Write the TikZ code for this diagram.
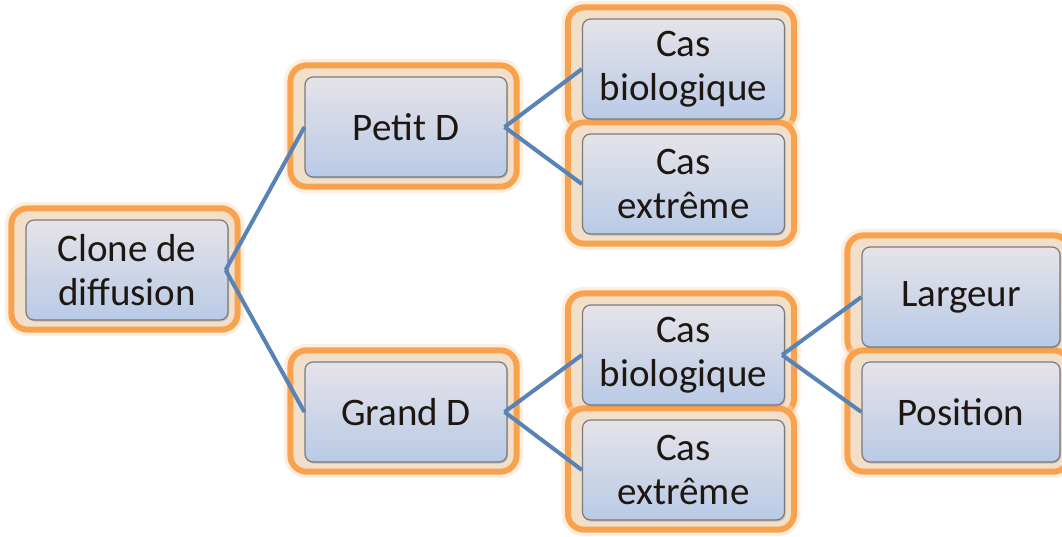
\documentclass[tikz,border=0pt]{standalone}
\usepackage{fontspec}
\setmainfont{Carlito}
\usetikzlibrary{backgrounds,shadows}
\definecolor{frameor}{HTML}{F9A24E}
\definecolor{framefill}{HTML}{F2DFC9}
\definecolor{boxtop}{HTML}{E5E3E8}
\definecolor{boxbot}{HTML}{B9CAE7}
\definecolor{boxedge}{HTML}{7A7A7A}
\definecolor{linkc}{HTML}{5883B6}
\definecolor{txt}{HTML}{1E1610}
\tikzset{
  box/.style={draw=boxedge, line width=1.2pt, rounded corners=8pt,
    top color=boxtop, bottom color=boxbot,
    minimum width=202pt, minimum height=100pt, inner sep=0pt,
    align=center, text=txt, font=\fontsize{39}{44}\selectfont,
    drop shadow={shadow xshift=1pt, shadow yshift=-1.5pt, opacity=0.35}},
  frame/.style={draw=frameor, line width=6pt, rounded corners=16pt, fill=framefill,
    preaction={draw=frameor!40, line width=13pt, opacity=0.45}},
  link/.style={draw=linkc, line width=4pt}
}
\begin{document}
\begin{tikzpicture}[x=1pt,y=-1pt]
\useasboundingbox (0,0) rectangle (1062,536);
\clip (0,0) rectangle (1062,536);
\node[box] (clone) at (127,270) {Clone de\\diffusion};
\node[box] (petit) at (406,127) {Petit D};
\node[box] (grand) at (406,412) {Grand D};
\node[box] (bio1) at (683.5,69) {Cas\\biologique};
\node[box] (ext1) at (683.5,184) {Cas\\extrême};
\node[box] (bio2) at (683.5,355) {Cas\\biologique};
\node[box] (ext2) at (683.5,470) {Cas\\extrême};
\node[box, minimum width=198pt] (larg) at (961,297) {Largeur};
\node[box, minimum width=198pt] (pos) at (961,412) {Position};
\begin{scope}[on background layer]
\foreach \n in {clone,petit,grand,bio1,ext1,bio2,ext2,larg,pos}
  \draw[frame] ([xshift=-14pt,yshift=11pt]\n.north west) rectangle ([xshift=9pt,yshift=-9pt]\n.south east);
\end{scope}
\draw[link] ([xshift=-3pt]clone.east) -- (petit.west);
\draw[link] ([xshift=-3pt]clone.east) -- (grand.west);
\draw[link] ([xshift=-3pt]petit.east) -- (bio1.west);
\draw[link] ([xshift=-3pt]petit.east) -- (ext1.west);
\draw[link] ([xshift=-3pt]grand.east) -- (bio2.west);
\draw[link] ([xshift=-3pt]grand.east) -- (ext2.west);
\draw[link] ([xshift=-3pt]bio2.east) -- (larg.west);
\draw[link] ([xshift=-3pt]bio2.east) -- (pos.west);
\end{tikzpicture}
\end{document}
